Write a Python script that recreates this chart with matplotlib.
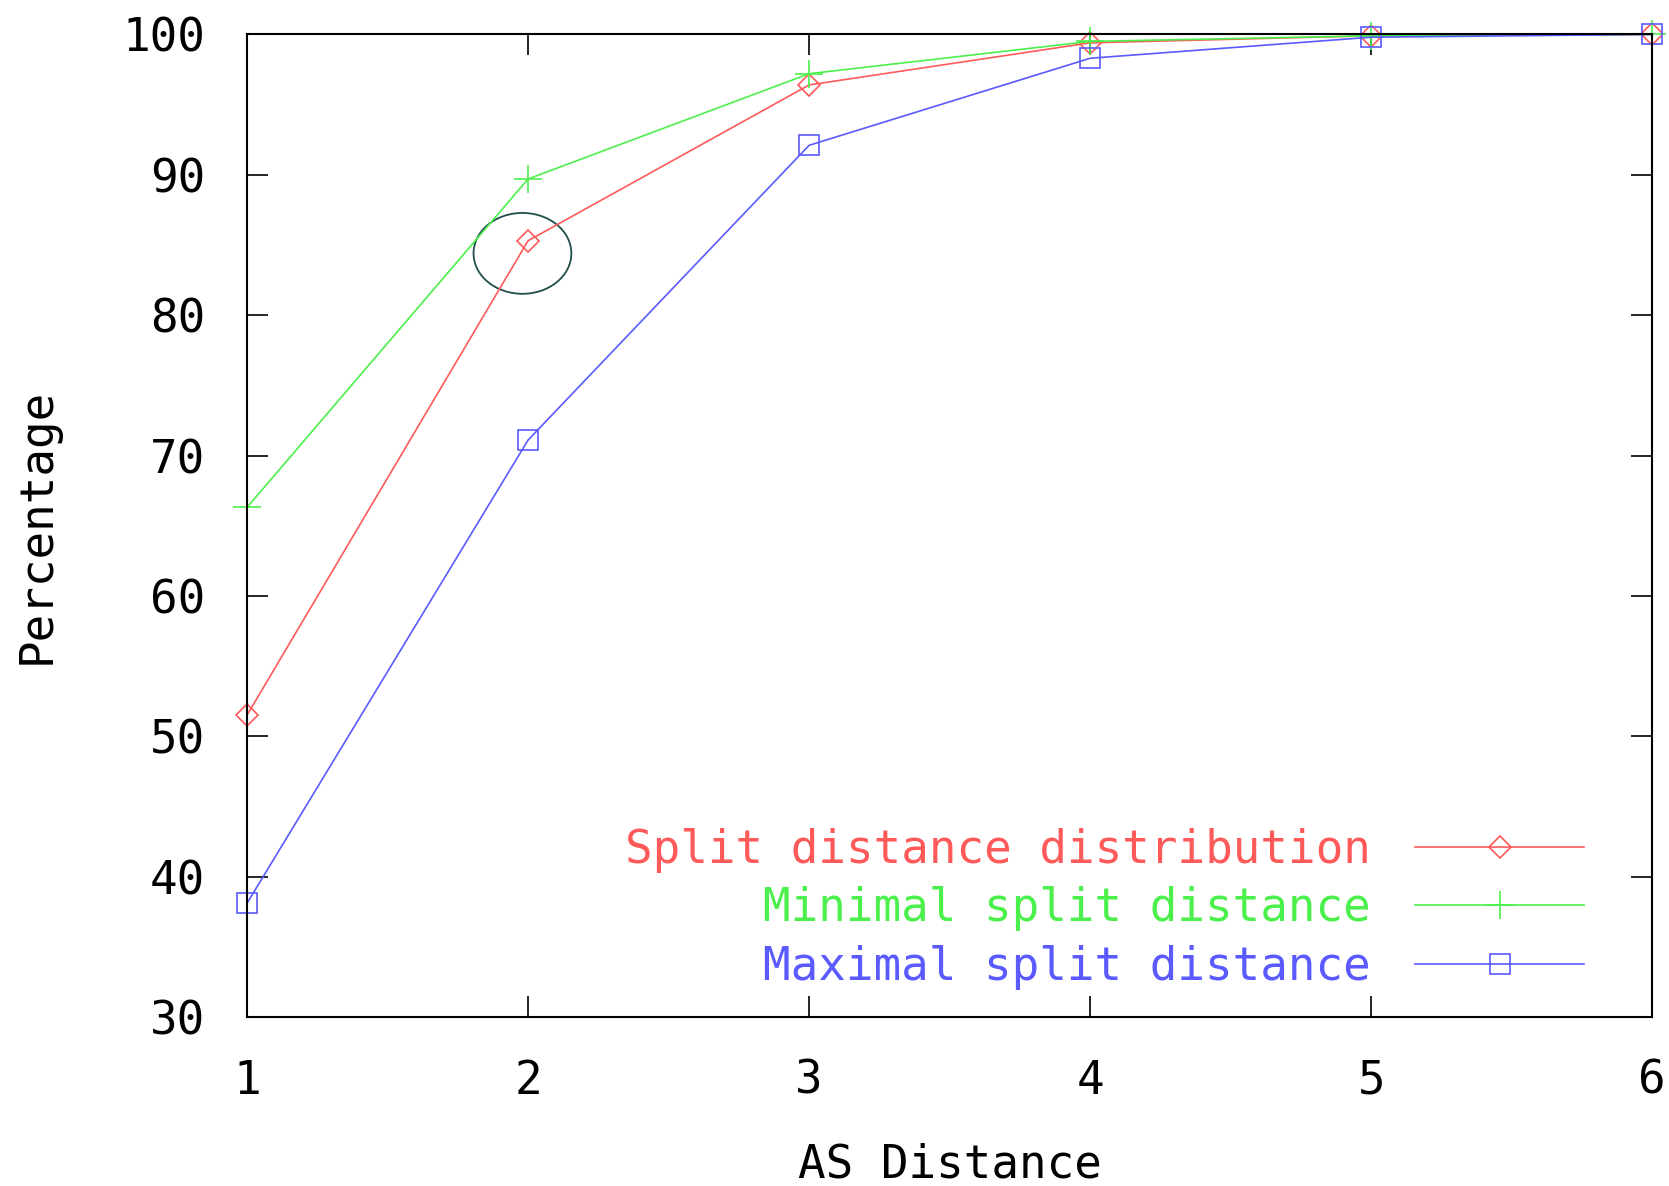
import matplotlib
matplotlib.use("Agg")
import matplotlib.pyplot as plt
from matplotlib.patches import Ellipse

x_dist = [1, 2, 3, 4, 5, 6]
split_dist = [51.5, 85.3, 96.4, 99.4, 99.9, 100.0]
min_split = [66.3, 89.7, 97.2, 99.5, 99.9, 100.0]
max_split = [38.1, 71.1, 92.1, 98.3, 99.8, 100.0]
labels = ["Split distance distribution", "Minimal split distance", "Maximal split distance"]
x_ticks = [1, 2, 3, 4, 5, 6]
y_ticks = [30, 40, 50, 60, 70, 80, 90, 100]

plt.rcParams['font.family'] = ['DejaVu Sans Mono']
FS = 33

fig = plt.figure(figsize=(16.69, 11.86), dpi=100)
ax = fig.add_axes([0.148, 0.1425, 0.842, 0.8285])

red, green, blue = '#ff5a5a', '#4cf04c', '#5a5aff'
common = dict(lw=1.2, mew=1.2, clip_on=False)
ax.plot(x_dist, split_dist, color=red, marker='D', ms=11, mfc='none', label=labels[0], **common)
ax.plot(x_dist, min_split, color=green, marker='+', ms=20, label=labels[1], **common)
ax.plot(x_dist, max_split, color=blue, marker='s', ms=15, mfc='none', label=labels[2], **common)

ax.add_patch(Ellipse((1.98, 84.4), 0.348, 5.76, fill=False, ec='#1f4f4a', lw=1.3))

ax.set_xlim(1, 6)
ax.set_ylim(30, 100)
ax.set_xticks(x_ticks)
ax.set_yticks(y_ticks)
ax.tick_params(direction='in', length=15, width=1.2, top=True, right=True,
               labelsize=FS, pad=30, colors='black')
for s in ax.spines.values():
    s.set_linewidth(1.5)

ax.set_xlabel("AS Distance", fontsize=FS, labelpad=28)
ax.set_ylabel("Percentage", fontsize=FS, labelpad=45)

leg = ax.legend(loc='lower right', bbox_to_anchor=(0.968, 0.004), frameon=False,
                markerfirst=False, fontsize=FS, handlelength=3.7, handletextpad=0.96,
                labelspacing=0.3, labelcolor='linecolor', borderpad=0)

fig.savefig("out.png", dpi=100)
